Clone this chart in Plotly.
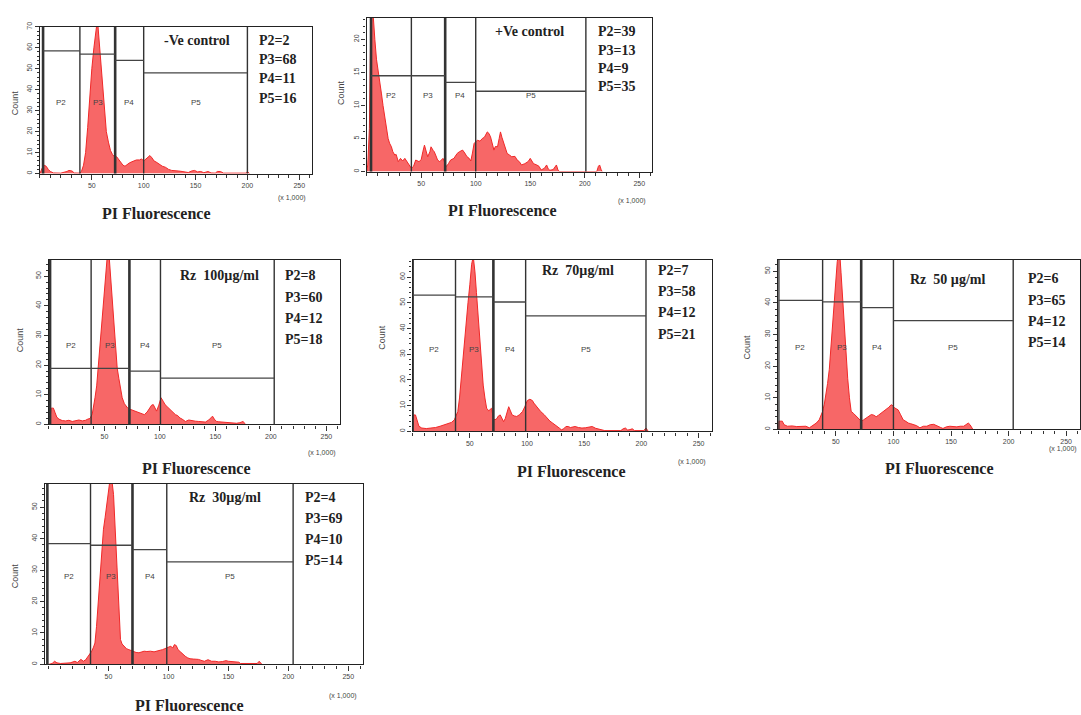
import plotly.graph_objects as go

W, H = 1081, 715

# ---------------- data ----------------
panel_titles = ["-Ve control", "+Ve control", "Rz  100µg/ml", "Rz  70µg/ml", "Rz  50 µg/ml", "Rz  30µg/ml"]
gate_names = ["P2", "P3", "P4", "P5"]
pct_P2 = [2, 39, 8, 7, 6, 4]
pct_P3 = [68, 13, 60, 58, 65, 69]
pct_P4 = [11, 9, 12, 12, 12, 10]
pct_P5 = [16, 35, 18, 21, 14, 14]
x_tick_vals = [50, 100, 150, 200, 250]
x_tick_text = ["50", "100", "150", "200", "250"]
x_axis_title = "PI Fluorescence"
x_unit_note = "(x 1,000)"
y_axis_title = "Count"

# PI fluorescence (x 1,000) and counts for each histogram
neg_x = [0, 2, 4, 6, 8, 10, 13, 20, 26, 28, 31, 33, 38, 40, 42, 44, 46, 48, 50, 52, 54, 55, 56, 58, 60, 62, 64, 66, 68, 70,
         72, 74, 76, 78, 80, 82, 84, 86, 88, 90, 93, 96, 98, 100, 102, 104, 106, 108, 110, 112, 115, 118, 121, 124, 127,
         130, 134, 137, 140, 143, 146, 149, 152, 155, 158, 162, 165, 169, 171, 174, 177, 185, 199, 200, 201, 202]
neg_count = [0, 2.5, 4, 3.5, 2, 1, 0.3, 0.2, 1, 1.5, 1.2, 0.3, 0.2, 1, 4, 10, 22, 38, 50, 60, 68, 72, 70, 58, 42, 30, 20, 15, 11, 9,
             8, 8, 6.5, 5, 4, 3.5, 4.5, 5, 5.5, 6, 6.5, 6.5, 7, 6, 7, 8, 8.6, 7.5, 6, 5.5, 4.5, 3.5, 3, 2, 1.5,
             1.5, 1.2, 1, 0.8, 0.5, 1.2, 1.5, 0.8, 1, 0.4, 1, 0.3, 0.2, 1, 1, 0.2, 0.2, 0.2, 1, 0.2, 0]

pos_x = [0, 1, 2.5, 4, 5, 6, 7.5, 9, 10.5, 12, 13.6, 15, 16.7, 18, 19.7, 21, 22.7, 24, 25.8, 27, 29, 31, 33, 35, 37, 39, 41,
         43, 45, 48, 50, 51.5, 53, 55, 56, 58, 59, 61, 62, 64, 65, 67, 70, 72, 73, 75, 77, 80, 83, 85, 88, 90, 92, 94, 95.5,
         97, 98.5, 101.5, 104, 106, 108, 110.6, 112, 113.6, 115, 116.7, 118, 120, 121.5, 122.7, 124, 125.8, 127, 128.8,
         131, 133, 136, 138, 140, 142, 145, 148, 150, 153, 156, 158, 160, 163, 165, 166.5, 168, 171, 174, 175.5, 177,
         211, 212.5, 213.6, 215, 216]
pos_count = [0, 1, 6.5, 25, 26, 23, 20, 17, 15, 13.5, 11.75, 10, 8, 6.5, 5, 4.3, 3.75, 3, 2.5, 2.6, 1.5, 2, 1.6, 2, 1.5, 1.2, 0.5,
             0.8, 1.75, 1.5, 1.8, 3, 4, 2.8, 2.25, 3, 3.75, 3.2, 3, 2.2, 1.75, 1.5, 2, 1.2, 0.75, 1.2, 1.75, 2, 2.75, 3, 3.25, 2.8,
             2.25, 2, 1.6, 2.8, 4.25, 4.75, 4.6, 5, 5.2, 6, 5.8, 5.25, 4.3, 3.25, 3.8, 3.75, 5, 6, 5.2, 4.25, 3.5, 2.75,
             2.5, 2.25, 2.3, 1.75, 1.5, 1, 1.2, 1.5, 2, 1.2, 1, 0.8, 0.25, 0.5, 1, 0.4, 0.2, 0.3, 1, 0.2, 0,
             0, 0.8, 1, 0.3, 0]

rz100_x = [0, 1, 2, 4, 5.5, 7, 9, 12, 15, 18, 21, 24, 27, 30, 33, 35, 37, 39, 40, 41.5, 43, 45, 46.5, 48, 49.5, 51, 52.6, 54,
           55.5, 57, 58.5, 60, 61.5, 63, 64.5, 66, 68, 71, 72.5, 74, 77, 80, 83, 86, 88.5, 91, 92.5, 94, 95.5, 97, 99, 101,
           103, 104.6, 106.5, 109, 111.5, 114, 116, 118, 120, 123, 126, 129, 132, 135, 138, 141, 144, 146, 147.4, 149, 151,
           153, 157, 161, 165, 169, 172, 175, 176.5, 177]
rz100_count = [0, 2, 5.5, 5.5, 4, 2.5, 1.8, 1.3, 1.2, 1.4, 1, 1.2, 1.5, 1.2, 1.4, 1.8, 2, 3.5, 5.5, 9, 13, 22, 30, 37, 43, 50, 57, 58,
               50, 41, 32, 24, 19, 15.5, 12, 9, 7, 5.5, 5.2, 5, 4.5, 4, 3.8, 3.3, 4.2, 5.5, 6.5, 6.7, 5.5, 4.5, 6.5, 9,
               7.8, 6.7, 6, 5, 4.2, 3.3, 3, 2.2, 1.8, 1, 1.5, 1.2, 1.1, 1, 1, 0.8, 1.5, 2.2, 2.8, 1.8, 1,
               0.9, 0.8, 0.6, 0.6, 0.4, 0.6, 1, 0.3, 0]

rz70_x = [0, 1, 2.5, 4, 5.5, 8, 12, 16, 20, 24, 28, 32, 34, 36.5, 38, 39.5, 41, 42.4, 44, 45.4, 47, 48.4, 50, 51.6, 53, 54.5,
          55.8, 57.3, 58.8, 60.2, 61.7, 63.2, 64.7, 66.5, 69, 70.6, 72, 73.6, 75, 76.6, 78, 79.5, 81, 82.5, 84, 85.5, 87,
          89, 91, 93.5, 96, 98, 100.3, 102.5, 104.7, 106, 107.7, 110, 112, 115, 118, 120, 122.5, 125, 127, 128.5, 130, 132,
          134, 136, 138, 140, 142, 145, 148, 151, 154, 157, 160, 163, 165.6, 168, 182, 184, 186, 188, 190, 192, 194, 202,
          204, 205, 206]
rz70_count = [0, 6.4, 6.4, 4, 2, 1.3, 1.1, 1.3, 1.5, 2, 2.5, 3.2, 3.5, 4.5, 6, 7.7, 13, 20.5, 29, 37, 44, 50, 57, 65, 68, 62,
              54, 44, 33, 25, 18, 13, 9, 8, 9, 5, 4.5, 5, 6, 6.4, 5, 3.8, 5, 7.5, 9.6, 8, 6.4,
              6, 5.8, 6.5, 7.7, 9.5, 12, 12.5, 12, 11, 10, 9, 7.7, 6.5, 5, 4, 3.2, 2.5, 1.9, 1.2, 0.6, 1,
              1.9, 1.9, 1.5, 1.6, 1.9, 1.5, 1.3, 1.4, 1.6, 1.9, 1.2, 0.9, 0.6, 0.3, 0.3, 1, 1.3, 0.5, 0.7, 1, 0.3, 0.3,
              1.3, 0.3, 0]

rz50_x = [0, 0.5, 3.5, 5, 8, 12, 16, 20, 24, 27, 29, 31, 33, 35.5, 37, 38.5, 40, 41.4, 42.8, 44.3, 45.7, 47.2, 48.6, 50, 51.2,
          52.5, 53.5, 54.5, 56, 57.4, 58.8, 60.3, 61.8, 63.3, 65.5, 67.6, 70, 72, 74, 76.4, 78.5, 80.8, 83, 85, 87, 89.5,
          92, 94, 96, 98, 99.5, 101, 102.5, 104, 106, 108.5, 111, 113, 115, 117, 120, 123, 126, 129, 132, 135, 138, 141,
          143, 146, 149, 152, 155, 158, 161, 163, 165, 166.5, 168, 169]
rz50_count = [0, 2.6, 2.6, 1.5, 1, 1.1, 0.9, 1, 1, 0.5, 1, 1.5, 2, 3, 4.2, 5.7, 8, 11, 14.5, 19, 26, 33, 41, 49.5, 53,
              56, 55, 49.5, 40, 31.8, 23, 16, 10, 5.7, 5, 4.2, 3.5, 2.6, 3, 3.6, 4.2, 4.7, 4.5, 4, 4.5, 5.2,
              5.8, 6.2, 7, 7.8, 7.5, 6.8, 6.5, 6.2, 4.8, 3, 2.5, 2, 1.8, 1.6, 1.2, 0.5, 1, 1, 1.5, 1.6, 1, 0.6,
              0.3, 0.8, 1, 0.8, 0.8, 1, 1, 1.5, 2, 1.5, 0.3, 0]

rz30_x = [0, 3, 5, 7, 10, 14, 18, 22, 24, 27, 29, 31, 33, 34.5, 36, 37.5, 38.7, 40, 41.5, 43, 44.4, 45.8, 47.2, 48.6, 50, 51,
          52, 53, 54.2, 55.6, 57, 58.5, 60, 61.3, 62.7, 65, 67, 69, 71, 73, 75.4, 77.5, 79.7, 82, 85, 88, 91, 93, 95, 97,
          99.4, 101, 102, 103.5, 105, 106.5, 108, 110, 112, 114, 116, 118, 121, 125, 128, 130, 133, 136, 139, 142, 145,
          148, 150, 153, 156, 158.8, 160, 174, 175.7, 177, 178]
rz30_count = [0, 0.3, 1, 0.5, 0.3, 0.5, 0.5, 1, 0.6, 1.6, 1, 1.5, 2.6, 3.2, 4.2, 5.5, 6.8, 12, 20.5, 30, 38.4, 43, 46.8, 51, 56, 58,
              59, 58, 54, 43, 31, 19, 7.9, 6.5, 5.8, 5, 4.7, 4.4, 4.2, 3.8, 3.7, 4, 4.2, 4.1, 4.2, 4, 4.2, 4.5, 4.7, 5,
              5.3, 5.6, 5.8, 5.2, 6.3, 6, 4.7, 4, 3.2, 2.6, 2.1, 1.8, 1.7, 1.6, 1.2, 1, 1.5, 1, 1, 0.8, 0.9,
              1.2, 1, 0.9, 0.8, 0.7, 0.3, 0.3, 1, 0.3, 0]

hist_x = [neg_x, pos_x, rz100_x, rz70_x, rz50_x, rz30_x]
hist_count = [neg_count, pos_count, rz100_count, rz70_count, rz50_count, rz30_count]

# gate boundaries (x 1,000) and gate marker heights (count units)
gate_edges = [[3, 38.5, 72.5, 100, 200],
              [4, 41, 72, 100, 201],
              [1, 38, 72.5, 100.5, 203],
              [0, 37.5, 70.6, 98.8, 204],
              [0, 38.5, 72, 100, 204],
              [-1, 35, 70, 98.6, 204]]
gate_levels = [[58.5, 57, 54, 48],
               [14.5, 14.5, 13.5, 12.15],
               [18.9, 18.9, 18, 15.6],
               [53, 52.3, 50.3, 44.9],
               [40.8, 40.3, 38.5, 34.4],
               [38.4, 37.9, 36.5, 32.6]]
gate_label_level = [34, 11.5, 26.7, 32, 26, 27.9]
y_max = [70, 23.25, 55.5, 66.7, 53.6, 57.4]
y_step = [10, 5, 10, 10, 10, 10]
x_min = [0, 0, 0, 0, 0, -3]
x_max = 262

# ---------------- layout (pixel geometry) ----------------
frames = [  # left, right, top, bottom
    (40, 312, 22, 170),
    (367, 653, 13, 168),
    (49, 340, 257, 423),
    (413, 713, 257, 430),
    (779, 1081, 257, 428),
    (45, 363, 483, 665),
]
title_pos = [(197, 36), (530, 27), (220, 273), (579, 268), (948, 277), (225, 497)]
stats_pos = [(257, 36, 19.3), (597, 27, 18.5), (283, 273, 21.5), (657, 268, 21.3), (1027, 276, 21.5), (303, 497, 21)]
xlabel_pos = [(157, 210), (503, 207), (197, 467), (572, 470), (940, 467), (190, 706)]
unit_pos = [(292, 195), (633, 198), (322, 452), (693, 461), (1080, 448), (343, 697)]
unit_anchor = ["center", "center", "center", "center", "right", "center"]
count_pos = [(15, 98), (342, 88), (20, 337), (383, 335), (748, 345), (15, 575)]

fill_col = "rgba(245,70,70,0.82)"
line_col = "rgb(240,40,40)"
serif = "Liberation Serif, Times New Roman, serif"
sans = "Liberation Sans, Arial, sans-serif"

fig = go.Figure()
annotations = []
shapes = []


def px2x(px):
    return px / W


def px2y(py):
    return 1 - py / H


for i in range(6):
    n = i + 1
    xa = "x" if n == 1 else f"x{n}"
    ya = "y" if n == 1 else f"y{n}"
    l, r, t, b = frames[i]
    fig.add_trace(go.Scatter(
        x=hist_x[i], y=hist_count[i], mode="lines", fill="tozeroy",
        fillcolor=fill_col, line=dict(color=line_col, width=1),
        xaxis=xa, yaxis=ya, showlegend=False, hoverinfo="skip"))

    axis_common = dict(showline=True, mirror=True, linecolor="#222", linewidth=1.4,
                       showgrid=False, zeroline=False, ticks="outside", tickcolor="#333",
                       tickfont=dict(size=7, color="#444", family=sans))
    fig.update_layout(**{
        ("xaxis" if n == 1 else f"xaxis{n}"): dict(
            domain=[px2x(l), px2x(r)], range=[x_min[i], x_max], anchor=ya,
            tickvals=x_tick_vals, ticktext=x_tick_text, ticklen=5, tickwidth=1,
            minor=dict(ticks="outside", dtick=10, tick0=0, ticklen=3, tickcolor="#333", showgrid=False),
            **axis_common),
        ("yaxis" if n == 1 else f"yaxis{n}"): dict(
            domain=[px2y(b), px2y(t)], range=[0, y_max[i]], anchor=xa,
            dtick=y_step[i], tick0=0, ticklen=4, tickangle=-90,
            minor=dict(ticks="outside", dtick=y_step[i] / 5, ticklen=2, tickcolor="#333", showgrid=False),
            **axis_common),
    })

    # gates
    edges = gate_edges[i]
    for k, e in enumerate(edges):
        w = 2.6 if k in (0, 2) else 1.4
        shapes.append(dict(type="line", xref=xa, yref=f"{ya} domain", x0=e, x1=e, y0=0, y1=1,
                           line=dict(color="#333", width=w)))
    for g in range(4):
        shapes.append(dict(type="line", xref=xa, yref=ya, x0=edges[g], x1=edges[g + 1],
                           y0=gate_levels[i][g], y1=gate_levels[i][g],
                           line=dict(color="#444", width=1.3)))
        annotations.append(dict(xref=xa, yref=ya, x=(edges[g] + edges[g + 1]) / 2, y=gate_label_level[i],
                                text=gate_names[g], showarrow=False,
                                font=dict(size=8, color="#444", family=sans)))

    # texts
    tx, ty = title_pos[i]
    annotations.append(dict(xref="paper", yref="paper", x=px2x(tx), y=px2y(ty), text=f"<b>{panel_titles[i]}</b>",
                            showarrow=False, xanchor="center", yanchor="middle",
                            font=dict(size=14, color="#222", family=serif)))
    sx, sy, sd = stats_pos[i]
    vals = [pct_P2[i], pct_P3[i], pct_P4[i], pct_P5[i]]
    for g in range(4):
        annotations.append(dict(xref="paper", yref="paper", x=px2x(sx), y=px2y(sy + g * sd),
                                text=f"<b>{gate_names[g]}={vals[g]}</b>", showarrow=False,
                                xanchor="left", yanchor="middle",
                                font=dict(size=14, color="#222", family=serif)))
    lx, ly = xlabel_pos[i]
    annotations.append(dict(xref="paper", yref="paper", x=px2x(lx), y=px2y(ly), text=f"<b>{x_axis_title}</b>",
                            showarrow=False, xanchor="center", yanchor="middle",
                            font=dict(size=16, color="#222", family=serif)))
    ux, uy = unit_pos[i]
    annotations.append(dict(xref="paper", yref="paper", x=px2x(ux), y=px2y(uy), text=x_unit_note,
                            showarrow=False, xanchor=unit_anchor[i], yanchor="middle",
                            font=dict(size=7, color="#444", family=sans)))
    cx, cy = count_pos[i]
    annotations.append(dict(xref="paper", yref="paper", x=px2x(cx), y=px2y(cy), text=y_axis_title,
                            showarrow=False, xanchor="center", yanchor="middle", textangle=-90,
                            font=dict(size=9, color="#444", family=sans)))

fig.update_layout(width=W, height=H, margin=dict(l=0, r=0, t=0, b=0),
                  paper_bgcolor="white", plot_bgcolor="white",
                  annotations=annotations, shapes=shapes, showlegend=False)

# remove the browser's default page margin so the figure sits at the window origin
fig.write_html("out.html", config={"displayModeBar": False},
               post_script="document.body.style.margin='0px';document.body.style.overflow='hidden';")
